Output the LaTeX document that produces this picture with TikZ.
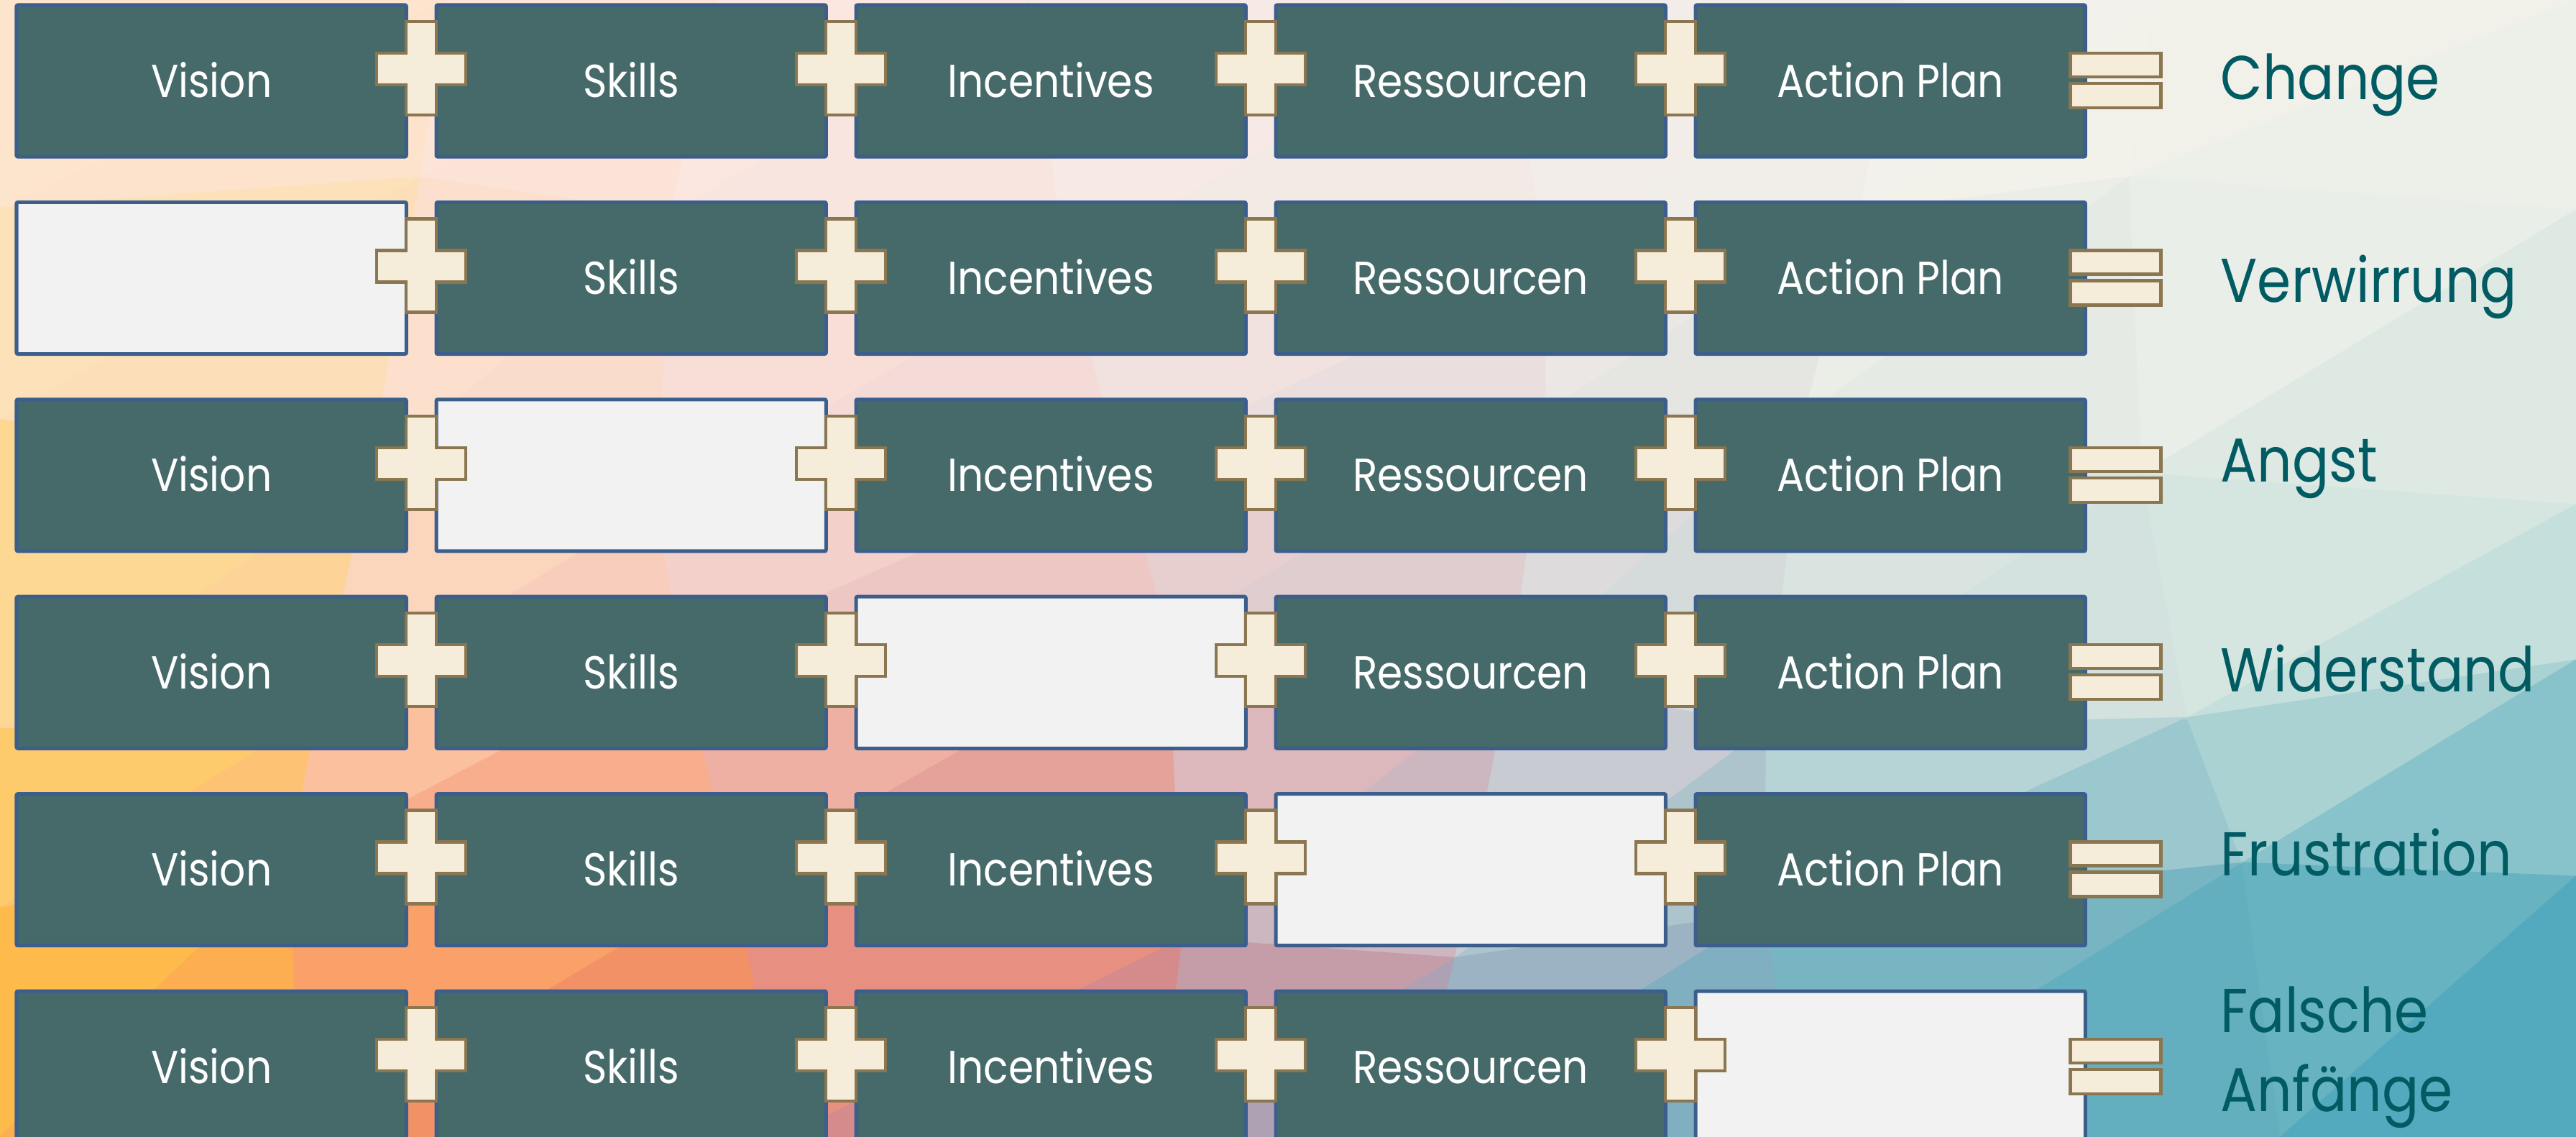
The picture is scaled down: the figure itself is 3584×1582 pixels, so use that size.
\documentclass[tikz,border=0pt]{standalone}
\usepackage{fontspec}
\newfontfamily\boxfont[FakeStretch=0.88]{Poppins}
\usetikzlibrary{calc}
% background grid colours g<col><row>
\definecolor{g00}{HTML}{FEE6D0}\definecolor{g10}{HTML}{FDE6D6}\definecolor{g20}{HTML}{FCE8E0}\definecolor{g30}{HTML}{FAEAE4}
\definecolor{g40}{HTML}{F6EEEA}\definecolor{g50}{HTML}{F4F1EA}\definecolor{g60}{HTML}{F2F1EA}\definecolor{g70}{HTML}{EEEFE8}
\definecolor{g01}{HTML}{FDE3C0}\definecolor{g11}{HTML}{FCE0CC}\definecolor{g21}{HTML}{FBE2DA}\definecolor{g31}{HTML}{F6E4E0}
\definecolor{g41}{HTML}{EEE8E6}\definecolor{g51}{HTML}{F2F2EC}\definecolor{g61}{HTML}{F2F2EC}\definecolor{g71}{HTML}{E8EEE8}
\definecolor{g02}{HTML}{FDE0A0}\definecolor{g12}{HTML}{FCDDC0}\definecolor{g22}{HTML}{F8D4CC}\definecolor{g32}{HTML}{EED8D8}
\definecolor{g42}{HTML}{E2DCDC}\definecolor{g52}{HTML}{DCE2DE}\definecolor{g62}{HTML}{E2EAE4}\definecolor{g72}{HTML}{D0E4DE}
\definecolor{g03}{HTML}{FECC58}\definecolor{g13}{HTML}{FDD0AC}\definecolor{g23}{HTML}{F6C4BC}\definecolor{g33}{HTML}{E4B8B8}
\definecolor{g43}{HTML}{D8D4D8}\definecolor{g53}{HTML}{CCDCDA}\definecolor{g63}{HTML}{CCE0DE}\definecolor{g73}{HTML}{B4DAD8}
\definecolor{g04}{HTML}{FFC640}\definecolor{g14}{HTML}{FDB070}\definecolor{g24}{HTML}{F49478}\definecolor{g34}{HTML}{D89AA0}
\definecolor{g44}{HTML}{B4B4C4}\definecolor{g54}{HTML}{88BCC8}\definecolor{g64}{HTML}{7CBCC4}\definecolor{g74}{HTML}{68B4C4}
\definecolor{g05}{HTML}{FFBA30}\definecolor{g15}{HTML}{FBA050}\definecolor{g25}{HTML}{E88068}\definecolor{g35}{HTML}{C08898}
\definecolor{g45}{HTML}{98A8C0}\definecolor{g55}{HTML}{60A8BC}\definecolor{g65}{HTML}{50A8BC}\definecolor{g75}{HTML}{40A0B8}
% diagram colours
\definecolor{boxfill}{HTML}{456A69}
\definecolor{boxline}{HTML}{3B5E8C}
\definecolor{blankfill}{HTML}{F2F2F2}
\definecolor{plusfill}{HTML}{F6ECDA}
\definecolor{plusline}{HTML}{8A7650}
\definecolor{labcol}{HTML}{005B63}
\tikzset{
  box/.style={draw=boxline, line width=0.05cm, rounded corners=0.02cm,
    minimum width=5.42cm, minimum height=2.11cm, inner sep=0pt, outer sep=0pt, anchor=north west},
  darkbox/.style={box, fill=boxfill, text=white,
    font=\boxfont\fontsize{18.3}{20}\selectfont, text height=0.45cm, text depth=0pt},
  blankbox/.style={box, fill=blankfill},
  signline/.style={draw=plusline, fill=plusfill, line width=0.045cm},
  lab/.style={text=labcol, anchor=base west, inner sep=0pt,
    font=\boxfont\fontsize{24.5}{26}\selectfont},
  plussign/.pic={\path[signline] (-62,-22) -- (-21,-22) -- (-21,-66) -- (21,-66) -- (21,-22)
    -- (62,-22) -- (62,22) -- (21,22) -- (21,64) -- (-21,64) -- (-21,22) -- (-62,22) -- cycle;},
  eqsign/.pic={\path[signline] (-63,-38) rectangle (63,-5);
    \path[signline] (-63,4) rectangle (63,38);}
}
\begin{document}
\begin{tikzpicture}[x=0.01cm,y=-0.01cm]
\useasboundingbox (0,0) rectangle (3584,1582);
% ---- low-poly background ----
\begin{scope}
\clip (0,0) rectangle (3584,1582);
\foreach \i in {0,...,7}{
  \foreach \j in {0,...,5}{
    \pgfmathsetmacro\dx{(\i>0)*(\i<7)*110*sin(97*\i+41*\j)}
    \pgfmathsetmacro\dy{(\j>0)*(\j<5)*70*cos(71*\i+113*\j)}
    \coordinate (p-\i-\j) at (512*\i+\dx, 316.4*\j+\dy);
  }
}
\foreach \i in {0,...,6}{
  \foreach \j in {0,...,4}{
    \pgfmathtruncatemacro\ii{\i+1}
    \pgfmathtruncatemacro\jj{\j+1}
    \filldraw[line width=0.02cm, draw=g\i\j!50!g\ii\j!67!g\i\jj, fill=g\i\j!50!g\ii\j!67!g\i\jj]
      (p-\i-\j) -- (p-\ii-\j) -- (p-\i-\jj) -- cycle;
    \filldraw[line width=0.02cm, draw=g\ii\j!50!g\ii\jj!67!g\i\jj, fill=g\ii\j!50!g\ii\jj!67!g\i\jj]
      (p-\ii-\j) -- (p-\ii-\jj) -- (p-\i-\jj) -- cycle;
  }
}
\end{scope}
% ---- boxes ----
\foreach \r in {0,...,5}{
  \pgfmathtruncatemacro\blank{\r-1}
  \foreach \c/\txt in {0/Vision,1/Skills,2/Incentives,3/Ressourcen,4/Action Plan}{
    \ifnum\c=\blank\relax
      \node[blankbox] (b\r\c) at (23+584*\c, 7+274.4*\r) {};
    \else
      \node[darkbox] (b\r\c) at (23+584*\c, 7+274.4*\r) {\txt};
    \fi
  }
  \foreach \c in {0,...,3}{
    \pgfmathtruncatemacro\cn{\c+1}
    \path ($(b\r\c.north east)!.5!(b\r\cn.north west)$) ++(0,89) pic {plussign};
  }
  \path (b\r4.north east) ++(42,105) pic {eqsign};
}
% ---- result labels ----
\node[lab] (l0) at (3089,139) {Change};
\node[lab] (l1) at (3089,420) {Verwirrung};
\node[lab] (l2) at (3089,670) {Angst};
\node[lab] (l3) at (3089,962) {Widerstand};
\node[lab] (l4) at (3089,1218) {Frustration};
\node[lab] (l5a) at (3089,1436) {Falsche};
\node[lab] (l5b) at (3089,1546) {Anfänge};
\end{tikzpicture}
\end{document}
